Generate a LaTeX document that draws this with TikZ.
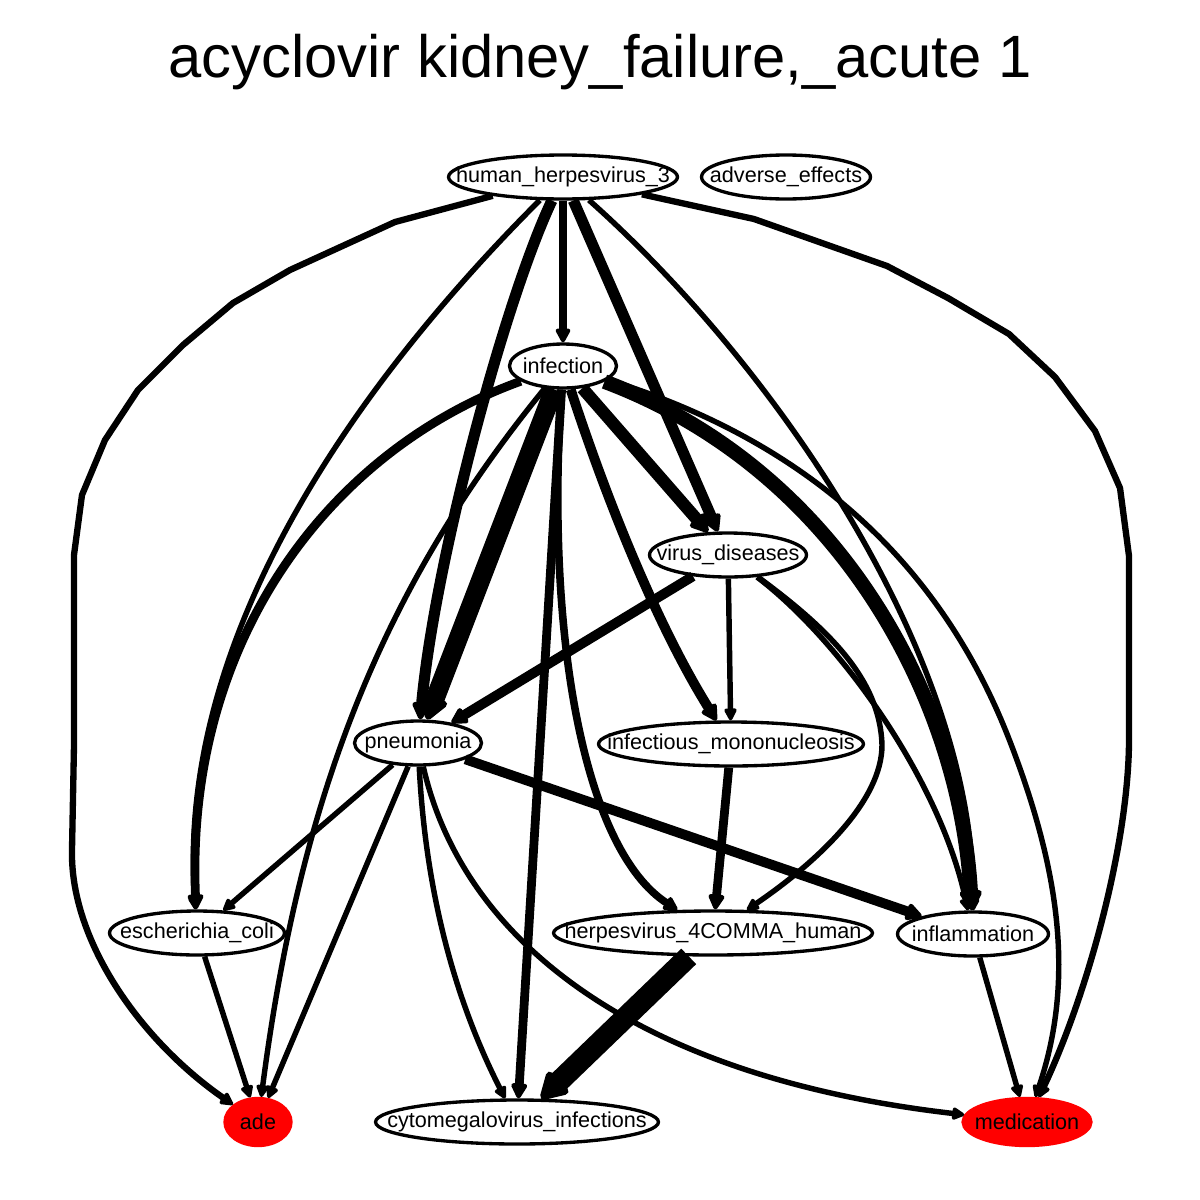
\documentclass[tikz,border=0pt]{standalone}
\usepackage{fontspec}
\setmainfont{Liberation Sans}
\usetikzlibrary{arrows.meta,shapes.geometric}
\newcommand\nlab[1]{\makebox[0pt]{#1}}
\begin{document}
\begin{tikzpicture}[x=0.02cm,y=-0.02cm,
  nd/.style={ellipse, draw=black, line width=1.9pt, inner sep=0pt, minimum height=0.88cm, font=\fontsize{12.3}{14}\selectfont},
  rednd/.style={nd, draw=red, fill=red},
  ed/.style={draw=black, line width=#1, line join=round, -{Triangle[length=5pt 1.0, width=4pt 1.2, round]}},
  ttl/.style={font=\fontsize{34}{40}\selectfont, inner sep=0pt}
]
\fill[white] (0,0) rectangle (1200,1200);
\useasboundingbox (0,0) rectangle (1200,1200);

\node[ttl] (title) at (600,62) {acyclovir kidney\_failure,\_acute 1};

\node[nd, minimum width=4.58cm] (hh3) at (563,177) {\nlab{human\_herpesvirus\_3}};
\node[nd, minimum width=3.38cm] (ae) at (786,177) {\nlab{adverse\_effects}};
\node[nd, minimum width=2.14cm] (inf) at (563,366) {\nlab{infection}};
\node[nd, minimum width=3.14cm] (vd) at (728,555) {\nlab{virus\_diseases}};
\node[nd, minimum width=2.54cm] (pn) at (418,743) {\nlab{pneumonia}};
\node[nd, minimum width=5.30cm] (mono) at (731,744) {\nlab{infectious\_mononucleosis}};
\node[nd, minimum width=3.50cm] (esch) at (197,933) {\nlab{escherichia\_coli}};
\node[nd, minimum width=6.38cm] (h4) at (713,933) {\nlab{herpesvirus\_4COMMA\_human}};
\node[nd, minimum width=3.02cm] (infl) at (973,934) {\nlab{inflammation}};
\node[rednd, minimum width=1.32cm, minimum height=0.94cm] (ade) at (258,1122) {\nlab{ade}};
\node[nd, minimum width=5.66cm] (cmv) at (517,1122) {\nlab{cytomegalovirus\_infections}};
\node[rednd, minimum width=2.56cm, minimum height=0.94cm] (med) at (1027,1122) {\nlab{medication}};

% from human_herpesvirus_3
\draw[ed=4.3pt] (hh3) -- (inf);
\draw[ed=6.3pt] (hh3) -- (vd);
\draw[ed=6.3pt] (hh3) .. controls (505,300) and (435,560) .. (pn);
\draw[ed=3.1pt] (hh3) .. controls (380,360) and (175,620) .. (esch);
\draw[ed=3.6pt] (hh3) -- (395,222) -- (290,270) -- (233,303) -- (183,345) -- (138,390) -- (105,440) -- (82,495) -- (74,555) -- (74,745) -- (72,850) .. controls (70,940) and (140,1040) .. (ade);
\draw[ed=3.1pt] (hh3) .. controls (780,370) and (975,660) .. (infl);
\draw[ed=3.6pt] (hh3) -- (754,219) -- (887,266) -- (948,298) -- (1009,334) -- (1055,377) -- (1095,431) -- (1120,488) -- (1129,556) -- (1129,742) .. controls (1128,850) and (1085,1000) .. (med);

% from infection
\draw[ed=10.8pt] (inf) -- (pn);
\draw[ed=7pt] (inf) -- (vd);
\draw[ed=5.6pt] (inf) .. controls (610,510) and (660,630) .. (mono);
\draw[ed=8.3pt] (inf) .. controls (840,470) and (960,700) .. (infl);
\draw[ed=3.1pt] (inf) .. controls (820,445) and (945,575) .. (1009,739) .. controls (1060,870) and (1075,980) .. (med);
\draw[ed=5pt] (inf) .. controls (330,450) and (185,640) .. (esch);
\draw[ed=3.1pt] (inf) .. controls (380,590) and (300,800) .. (ade);
\draw[ed=5pt] (inf) -- (cmv);
\draw[ed=4.3pt] (inf) .. controls (545,640) and (585,850) .. (h4);

% from virus_diseases
\draw[ed=5.6pt] (vd) -- (pn);
\draw[ed=3.1pt] (vd) -- (mono);
\draw[ed=3.1pt] (vd) .. controls (840,640) and (940,780) .. (infl);
\draw[ed=3.1pt] (vd) .. controls (830,630) and (880,680) .. (882,745) .. controls (882,800) and (820,860) .. (h4);

% from pneumonia
\draw[ed=3.1pt] (pn) -- (esch);
\draw[ed=3.1pt] (pn) -- (ade);
\draw[ed=3.1pt] (pn) .. controls (425,880) and (450,990) .. (cmv);
\draw[ed=3.1pt] (pn) .. controls (460,930) and (620,1075) .. (med);
\draw[ed=5.6pt] (pn) -- (infl);

% others
\draw[ed=5pt] (mono) -- (h4);
\draw[ed=12.2pt] (h4) -- (cmv);
\draw[ed=3.1pt] (esch) -- (ade);
\draw[ed=3.1pt] (infl) -- (med);
\end{tikzpicture}
\end{document}
